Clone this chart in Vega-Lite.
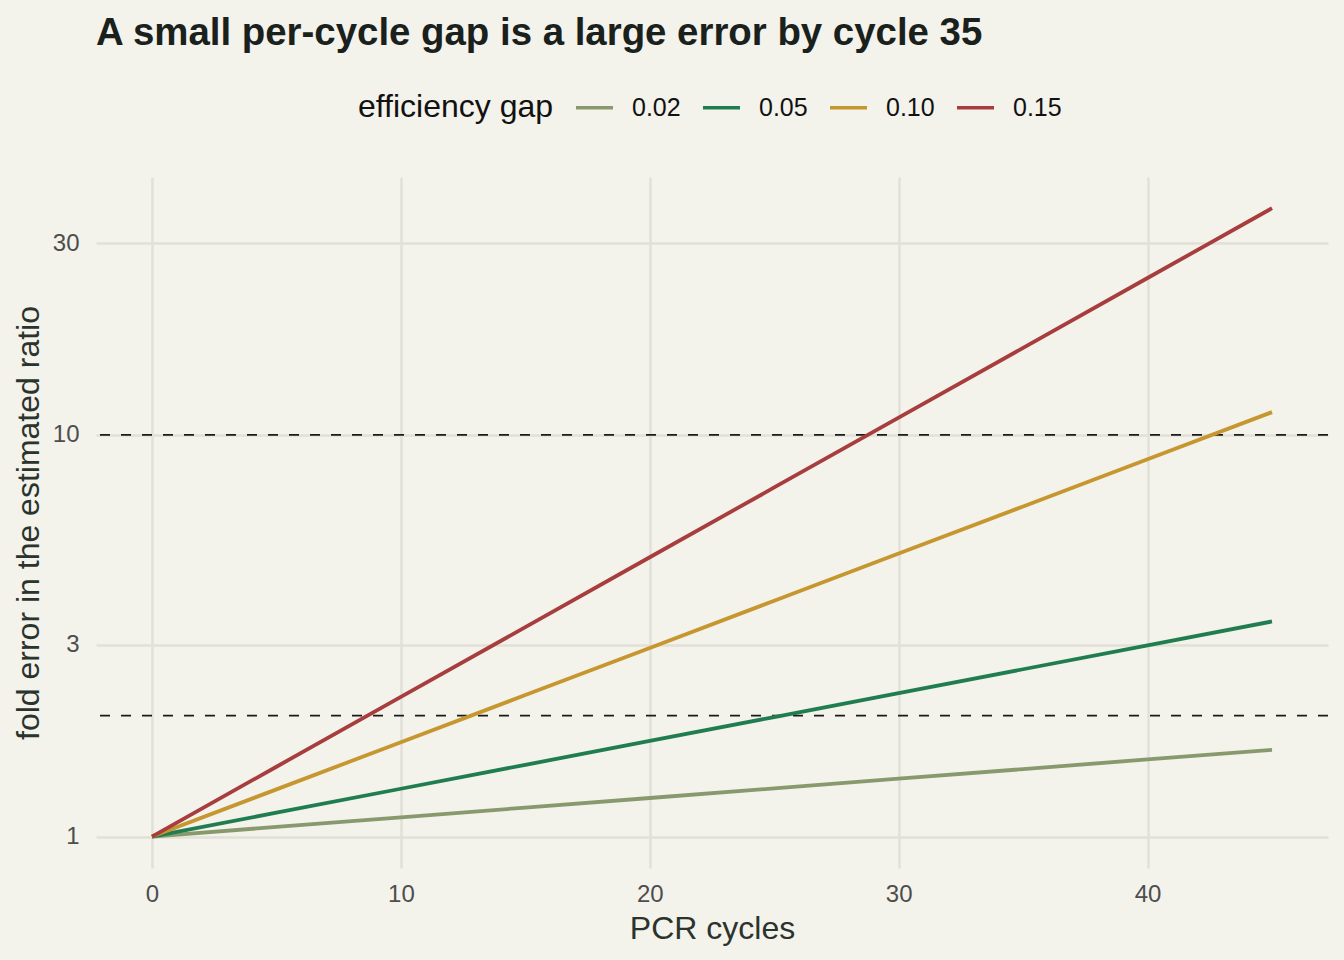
{
  "$schema": "https://vega.github.io/schema/vega-lite/v6.json",
  "width": 1232,
  "height": 691,
  "autosize": {"type": "none"},
  "padding": {"left": 96, "top": 177, "right": 16, "bottom": 92},
  "background": "#F3F2EB",
  "title": {
    "text": "A small per-cycle gap is a large error by cycle 35",
    "anchor": "start",
    "frame": "group",
    "fontSize": 38.4,
    "fontWeight": "bold",
    "font": "Liberation Sans",
    "color": "#1A211C",
    "offset": 34
  },
  "config": {
    "view": {"stroke": null},
    "font": "Liberation Sans",
    "axis": {
      "domain": false,
      "ticks": false,
      "gridColor": "#E2E1D8",
      "gridWidth": 2.5,
      "labelFont": "Liberation Sans",
      "titleFont": "Liberation Sans",
      "labelColor": "#4D4D4D",
      "titleColor": "#2B332D",
      "labelFontSize": 24,
      "titleFontSize": 32,
      "titleFontWeight": "normal"
    }
  },
  "datasets": {
    "curves": [
      {"cycle": 0, "gap": "0.02", "fold": 1},
      {"cycle": 5, "gap": "0.02", "fold": 1.0568},
      {"cycle": 10, "gap": "0.02", "fold": 1.1168},
      {"cycle": 15, "gap": "0.02", "fold": 1.1803},
      {"cycle": 20, "gap": "0.02", "fold": 1.2473},
      {"cycle": 25, "gap": "0.02", "fold": 1.3182},
      {"cycle": 30, "gap": "0.02", "fold": 1.3931},
      {"cycle": 35, "gap": "0.02", "fold": 1.4722},
      {"cycle": 40, "gap": "0.02", "fold": 1.5558},
      {"cycle": 45, "gap": "0.02", "fold": 1.6442},
      {"cycle": 0, "gap": "0.05", "fold": 1},
      {"cycle": 5, "gap": "0.05", "fold": 1.1468},
      {"cycle": 10, "gap": "0.05", "fold": 1.3152},
      {"cycle": 15, "gap": "0.05", "fold": 1.5083},
      {"cycle": 20, "gap": "0.05", "fold": 1.7297},
      {"cycle": 25, "gap": "0.05", "fold": 1.9837},
      {"cycle": 30, "gap": "0.05", "fold": 2.275},
      {"cycle": 35, "gap": "0.05", "fold": 2.609},
      {"cycle": 40, "gap": "0.05", "fold": 2.9921},
      {"cycle": 45, "gap": "0.05", "fold": 3.4313},
      {"cycle": 0, "gap": "0.10", "fold": 1},
      {"cycle": 5, "gap": "0.10", "fold": 1.3104},
      {"cycle": 10, "gap": "0.10", "fold": 1.7171},
      {"cycle": 15, "gap": "0.10", "fold": 2.2502},
      {"cycle": 20, "gap": "0.10", "fold": 2.9487},
      {"cycle": 25, "gap": "0.10", "fold": 3.864},
      {"cycle": 30, "gap": "0.10", "fold": 5.0634},
      {"cycle": 35, "gap": "0.10", "fold": 6.635},
      {"cycle": 40, "gap": "0.10", "fold": 8.6946},
      {"cycle": 45, "gap": "0.10", "fold": 11.393},
      {"cycle": 0, "gap": "0.15", "fold": 1},
      {"cycle": 5, "gap": "0.15", "fold": 1.4922},
      {"cycle": 10, "gap": "0.15", "fold": 2.2267},
      {"cycle": 15, "gap": "0.15", "fold": 3.3222},
      {"cycle": 20, "gap": "0.15", "fold": 4.9574},
      {"cycle": 25, "gap": "0.15", "fold": 7.397},
      {"cycle": 30, "gap": "0.15", "fold": 11.038},
      {"cycle": 35, "gap": "0.15", "fold": 16.469},
      {"cycle": 40, "gap": "0.15", "fold": 24.574},
      {"cycle": 45, "gap": "0.15", "fold": 36.667}
    ],
    "refs": [{"level": 2}, {"level": 10}]
  },
  "layer": [
    {
      "data": {"name": "refs"},
      "mark": {"type": "rule", "color": "#1A1A1A", "strokeWidth": 1.8, "strokeDash": [10, 11]},
      "encoding": {
        "y": {"field": "level", "type": "quantitative", "scale": {"type": "log", "domain": [0.835, 43.85], "nice": false}}
      }
    },
    {
      "data": {"name": "curves"},
      "mark": {"type": "line", "strokeWidth": 3.8, "clip": true},
      "encoding": {
        "x": {
          "field": "cycle",
          "type": "quantitative",
          "title": "PCR cycles",
          "scale": {"domain": [-2.25, 47.25], "nice": false, "zero": false},
          "axis": {"values": [0, 10, 20, 30, 40], "labelPadding": 14, "titlePadding": 7, "grid": true}
        },
        "y": {
          "field": "fold",
          "type": "quantitative",
          "title": "fold error in the estimated ratio",
          "scale": {"type": "log", "domain": [0.835, 43.85], "nice": false},
          "axis": {"values": [1, 3, 10, 30], "format": "~g", "labelPadding": 17, "titlePadding": 7, "grid": true}
        },
        "color": {
          "field": "gap",
          "type": "nominal",
          "scale": {"domain": ["0.02", "0.05", "0.10", "0.15"], "range": ["#88996E", "#1F7D50", "#C6962F", "#A83D3D"]},
          "legend": {
            "title": "efficiency gap",
            "orient": "none",
            "direction": "horizontal",
            "legendX": 262,
            "legendY": -90,
            "titleOrient": "left",
            "titleBaseline": "line-top",
            "titleLineHeight": 8,
            "titleFontSize": 32,
            "titleFontWeight": "normal",
            "titleColor": "#111111",
            "titleLimit": 500,
            "titlePadding": 20,
            "labelFontSize": 25,
            "labelColor": "#111111",
            "labelOffset": 17,
            "columnPadding": 15,
            "symbolType": "stroke",
            "symbolSize": 1369,
            "symbolStrokeWidth": 3.5
          }
        }
      }
    }
  ]
}
